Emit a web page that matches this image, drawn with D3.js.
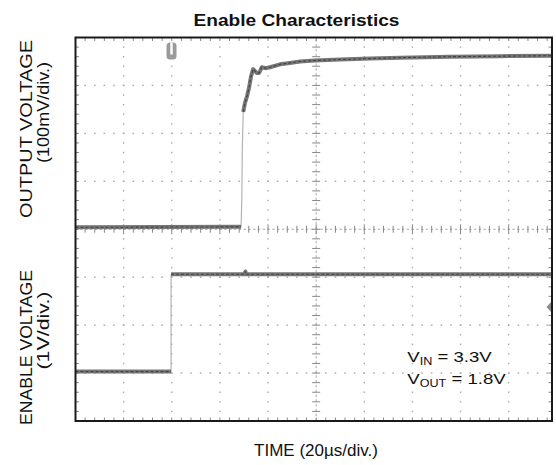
<!DOCTYPE html>
<html>
<head>
<meta charset="utf-8">
<script src="https://cdn.jsdelivr.net/npm/d3@7"></script>
<style>
  body { margin: 0; background: #fff; }
  text { font-family: "Liberation Sans", Arial, sans-serif; fill: #111; }
</style>
</head>
<body>
<div id="chart"></div>
<script>
// time in microseconds, trace levels in screen divisions (0 = bottom of screen)
const outTime = [0, 68.8, 69.1, 69.3, 69.7, 70.4, 71.3, 72.1, 72.9, 73.8, 75.3, 76.3, 77.4, 79.2, 80.8, 85.0, 89.1, 93.3, 99.5, 109.9, 122.4, 134.9, 155.6, 176.4, 198]
const outDiv  = [4.04, 4.05, 4.61, 5.65, 6.45, 6.63, 6.78, 6.95, 7.18, 7.34, 7.26, 7.26, 7.38, 7.36, 7.38, 7.44, 7.47, 7.50, 7.52, 7.54, 7.56, 7.58, 7.60, 7.61, 7.62]

const enTime = [0, 39.7, 39.7, 70.4, 70.6, 70.8, 198]
const enDiv  = [1.03, 1.03, 3.06, 3.06, 3.12, 3.06, 3.06]

const triggerTime = 39.9
const markerDiv = 2.38

const timeTicks = [0, 20, 40, 60, 80, 100, 120, 140, 160, 180]
const divTicks = [0, 1, 2, 3, 4, 5, 6, 7, 8]

const width = 556
const height = 465
const margin = { top: 37.5, right: 4, bottom: 44, left: 75.5 }

const svg = d3.select('#chart')
  .append('svg')
  .attr('width', width)
  .attr('height', height)

const x = d3.scaleLinear()
  .domain([0, 198])
  .range([margin.left, width - margin.right])

const y = d3.scaleLinear()
  .domain([0, 8])
  .range([height - margin.bottom, margin.top])

const x0 = x.range()[0], x1 = x.range()[1]
const y0 = y.range()[0], y1 = y.range()[1]

// minor positions: 5 per division
const minorT = d3.range(1, 50).map(k => k * 4).filter(t => t < 198)
const minorD = d3.range(1, 40).map(k => k / 5)

const grid = svg.append('g')

// dotted vertical grid
timeTicks.filter(t => t !== 0 && t !== 100).forEach(t => {
  grid.selectAll(null)
    .data(minorD)
    .join('rect')
    .attr('x', x(t) - 0.7)
    .attr('y', d => y(d) - 0.7)
    .attr('width', 1.4)
    .attr('height', 1.4)
    .attr('fill', '#aaa')
})

// dotted horizontal grid
divTicks.filter(d => d !== 0 && d !== 8 && d !== 4).forEach(d => {
  grid.selectAll(null)
    .data(minorT)
    .join('rect')
    .attr('x', t => x(t) - 0.8)
    .attr('y', y(d) - 0.7)
    .attr('width', 1.6)
    .attr('height', 1.4)
    .attr('fill', '#aaa')
})

// centre lines with ticks
grid.append('line')
  .attr('x1', x0).attr('x2', x1)
  .attr('y1', y(4)).attr('y2', y(4))
  .attr('stroke', '#aaa').attr('stroke-width', 1)
  .attr('stroke-dasharray', '2.5,2.3')
grid.append('line')
  .attr('x1', x(100)).attr('x2', x(100))
  .attr('y1', y0).attr('y2', y1)
  .attr('stroke', '#aaa').attr('stroke-width', 1)
  .attr('stroke-dasharray', '2.5,2.3')

grid.selectAll('.ctick-x')
  .data(minorT)
  .join('line')
  .attr('x1', t => x(t)).attr('x2', t => x(t))
  .attr('y1', t => y(4) - (t % 20 === 0 ? 5 : 3.5))
  .attr('y2', t => y(4) + (t % 20 === 0 ? 5 : 3.5))
  .attr('stroke', '#888').attr('stroke-width', 1)

grid.selectAll('.ctick-y')
  .data(minorD)
  .join('line')
  .attr('y1', d => y(d)).attr('y2', d => y(d))
  .attr('x1', d => x(100) - 4)
  .attr('x2', d => x(100) + 4)
  .attr('stroke', '#888').attr('stroke-width', 1)

// edge ticks
const edge = svg.append('g').attr('stroke', '#888').attr('stroke-width', 1)
edge.selectAll('.top')
  .data(minorT).join('line')
  .attr('x1', t => x(t)).attr('x2', t => x(t))
  .attr('y1', y1).attr('y2', y1 + 3.5)
edge.selectAll('.bottom')
  .data(minorT).join('line')
  .attr('x1', t => x(t)).attr('x2', t => x(t))
  .attr('y1', y0).attr('y2', y0 - 3.5)
edge.selectAll('.left')
  .data(minorD).join('line')
  .attr('y1', d => y(d)).attr('y2', d => y(d))
  .attr('x1', x0).attr('x2', x0 + 3.5)
edge.selectAll('.right')
  .data(minorD).join('line')
  .attr('y1', d => y(d)).attr('y2', d => y(d))
  .attr('x1', x1).attr('x2', x1 - 3.5)

// traces
const line = d3.line().x(d => x(d[0])).y(d => y(d[1]))
const outPts = outTime.map((t, i) => [t, outDiv[i]])
const enPts = enTime.map((t, i) => [t, enDiv[i]])

const thin = pts => svg.append('path')
  .attr('d', line(pts))
  .attr('fill', 'none')
  .attr('stroke', '#b4b4b4')
  .attr('stroke-width', 1.2)

const thick = pts => {
  svg.append('path')
    .attr('d', line(pts))
    .attr('fill', 'none')
    .attr('stroke', '#777')
    .attr('stroke-width', 4)
    .attr('stroke-linejoin', 'round')
  svg.append('path')
    .attr('d', line(pts))
    .attr('fill', 'none')
    .attr('stroke', '#444')
    .attr('stroke-width', 1.1)
    .attr('stroke-dasharray', '3,2')
}

thin(outPts.slice(1, 5))
thick(outPts.slice(0, 2))
thick(outPts.slice(4))

thin(enPts.slice(1, 3))
thick(enPts.slice(0, 2))
thick(enPts.slice(2))

// trigger marker
const tx = x(triggerTime)
svg.append('rect')
  .attr('x', tx - 5).attr('y', y1 + 5)
  .attr('width', 10).attr('height', 17)
  .attr('rx', 3.5)
  .attr('fill', '#9a9a9a')
svg.append('rect')
  .attr('x', tx - 1.2).attr('y', y1 + 5)
  .attr('width', 2.4).attr('height', 12)
  .attr('fill', '#fff')

// channel marker on the right edge
svg.append('path')
  .attr('d', `M${x1},${y(markerDiv) - 6} L${x1 - 5.5},${y(markerDiv)} L${x1},${y(markerDiv) + 6} Z`)
  .attr('fill', '#8a8a8a')

// frame
svg.append('rect')
  .attr('x', x0).attr('y', y1)
  .attr('width', x1 - x0).attr('height', y0 - y1)
  .attr('fill', 'none')
  .attr('stroke', '#1a1a1a')
  .attr('stroke-width', 2)

// title
svg.append('text')
  .text('Enable Characteristics')
  .attr('x', 296.5).attr('y', 26)
  .attr('text-anchor', 'middle')
  .attr('font-size', 16.5)
  .attr('font-weight', 'bold')
  .attr('textLength', 206)
  .attr('lengthAdjust', 'spacingAndGlyphs')

// x label
svg.append('text')
  .text('TIME (20\u00b5s/div.)')
  .attr('x', 316).attr('y', 456)
  .attr('text-anchor', 'middle')
  .attr('font-size', 16)
  .attr('textLength', 124)
  .attr('lengthAdjust', 'spacingAndGlyphs')

// y labels
const yLabel = (txt, cx, cy, len) => svg.append('text')
  .text(txt)
  .attr('transform', `translate(${cx},${cy}) rotate(-90)`)
  .attr('text-anchor', 'middle')
  .attr('font-size', 16)
  .attr('textLength', len)
  .attr('lengthAdjust', 'spacingAndGlyphs')

yLabel('OUTPUT VOLTAGE', 31.5, 129, 178)
yLabel('(100mV/div.)', 48.5, 112.5, 101)
yLabel('ENABLE VOLTAGE', 31.5, 347.5, 155)
yLabel('(1V/div.)', 48.5, 330.5, 78)

// conditions
const cond = (main, sub, rest, bx, by) => {
  const t = svg.append('text')
    .attr('transform', `translate(${bx},${by}) scale(1.2,1)`)
    .attr('font-size', 15.5)
  t.append('tspan').text(main)
  t.append('tspan').text(sub).attr('font-size', 10.5).attr('dy', 3)
  t.append('tspan').text(rest).attr('dy', -3)
}
cond('V', 'IN', ' = 3.3V', 407.3, 361.7)
cond('V', 'OUT', ' = 1.8V', 407.3, 384)
</script>
</body>
</html>
